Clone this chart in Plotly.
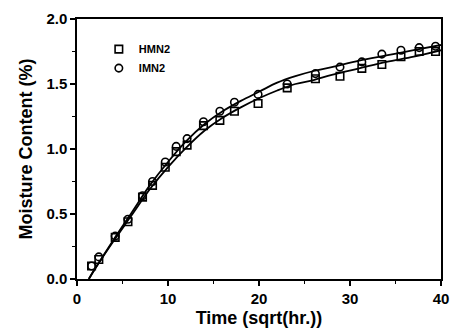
import plotly.graph_objects as go

# Measured points
hmn2_x = [1.6, 2.4, 4.2, 5.6, 7.2, 8.3, 9.7, 10.9, 12.1, 13.9, 15.7, 17.3, 19.9, 23.1, 26.2, 28.9, 31.3, 33.5, 35.6, 37.6, 39.4]
hmn2_y = [0.10, 0.15, 0.32, 0.44, 0.63, 0.72, 0.86, 0.98, 1.03, 1.18, 1.22, 1.29, 1.35, 1.47, 1.54, 1.56, 1.62, 1.65, 1.71, 1.75, 1.75]
imn2_x = [1.6, 2.4, 4.2, 5.6, 7.2, 8.3, 9.7, 10.9, 12.1, 13.9, 15.7, 17.3, 19.9, 23.1, 26.2, 28.9, 31.3, 33.5, 35.6, 37.6, 39.4]
imn2_y = [0.10, 0.17, 0.33, 0.46, 0.64, 0.75, 0.90, 1.02, 1.08, 1.21, 1.29, 1.36, 1.42, 1.50, 1.58, 1.63, 1.67, 1.73, 1.76, 1.78, 1.79]

# Fitted curves
fit_x = [1.3, 2, 4, 6, 8, 10, 12, 14, 16, 18, 20, 22, 24, 26, 28, 31, 34, 37, 40]
fit_hmn2 = [0.0, 0.08, 0.29, 0.49, 0.69, 0.86, 1.01, 1.14, 1.24, 1.32, 1.39, 1.45, 1.50, 1.53, 1.57, 1.62, 1.67, 1.71, 1.76]
fit_imn2 = [0.0, 0.08, 0.30, 0.51, 0.72, 0.90, 1.06, 1.19, 1.29, 1.37, 1.44, 1.51, 1.56, 1.60, 1.63, 1.68, 1.72, 1.76, 1.80]

font = "Liberation Sans, Arial, sans-serif"

fig = go.Figure()
fig.add_trace(go.Scatter(x=fit_x, y=fit_hmn2, mode="lines", line=dict(color="black", width=1.8, shape="spline"), showlegend=False))
fig.add_trace(go.Scatter(x=fit_x, y=fit_imn2, mode="lines", line=dict(color="black", width=1.8, shape="spline"), showlegend=False))
fig.add_trace(go.Scatter(x=hmn2_x, y=hmn2_y, mode="markers", name="<b>HMN2</b>",
                         marker=dict(symbol="square-open", size=7.5, color="black", line=dict(width=1.6))))
fig.add_trace(go.Scatter(x=imn2_x, y=imn2_y, mode="markers", name="<b>IMN2</b>",
                         marker=dict(symbol="circle-open", size=7.5, color="black", line=dict(width=1.6))))

axis_common = dict(showgrid=False, zeroline=False, showline=True, linecolor="black", linewidth=1.5,
                   mirror=True, ticks="outside", ticklen=5, tickwidth=1.5, tickcolor="black",
                   tickfont=dict(family=font, size=15, color="black", weight="bold"))
fig.update_xaxes(range=[0, 40], dtick=10, tick0=0,
                 minor=dict(dtick=5, ticks="outside", ticklen=3, tickcolor="black", tickwidth=1.2),
                 title=dict(text="<b>Time (sqrt(hr.))</b>", font=dict(family=font, size=18, color="black"), standoff=6),
                 **axis_common)
fig.update_yaxes(range=[0, 2.0], dtick=0.5, tick0=0, tickformat=".1f",
                 minor=dict(dtick=0.25, ticks="outside", ticklen=3, tickcolor="black", tickwidth=1.2),
                 title=dict(text="<b>Moisture Content (%)</b>", font=dict(family=font, size=18, color="black"), standoff=9),
                 **axis_common)

fig.update_layout(width=459, height=335, margin=dict(l=77, r=10, t=13, b=56),
                  paper_bgcolor="white", plot_bgcolor="white",
                  legend=dict(x=0.06, y=0.94, xanchor="left", yanchor="top", bgcolor="rgba(0,0,0,0)",
                              font=dict(family=font, size=11, color="black"), itemwidth=30, tracegroupgap=0))

fig.write_html("out.html")
